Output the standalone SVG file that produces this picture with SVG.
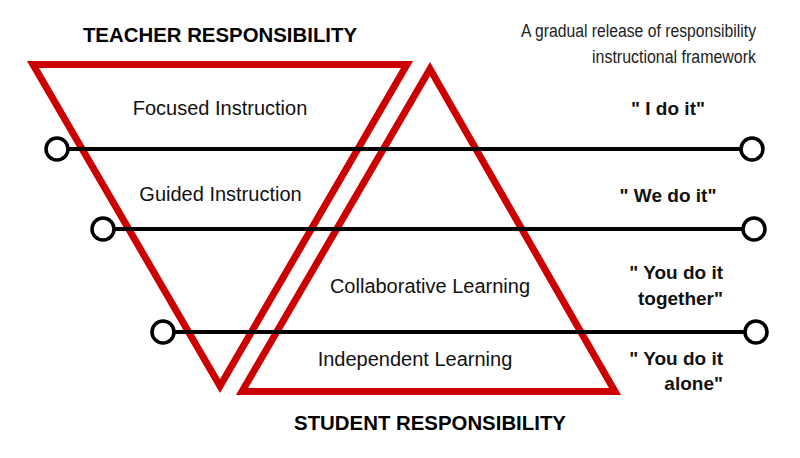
<svg xmlns="http://www.w3.org/2000/svg" width="800" height="458" viewBox="0 0 800 458">
<style>
.tri{fill:none;stroke:#cc0000;stroke-width:7;stroke-linejoin:miter;stroke-miterlimit:10}
.ln{stroke:#000;stroke-width:4}
.dot{fill:#fff;stroke:#000;stroke-width:3.5}
.hd{font-family:"Liberation Sans",Arial,sans-serif;font-weight:bold;font-size:20.4px;fill:#000}
.lb{font-family:"Liberation Sans",Arial,sans-serif;font-size:20px;fill:#111;text-anchor:middle}
.rt{font-family:"Liberation Sans",Arial,sans-serif;font-weight:bold;font-size:19px;fill:#111}
.sub{font-family:"Liberation Sans Narrow","Liberation Sans",Arial,sans-serif;font-size:18px;fill:#222;text-anchor:end}
</style>
<rect width="800" height="458" fill="#fff"/>
<g id="teacher-triangle">
<polygon class="tri" points="33,64.5 407,64.5 220,386"/>
</g>
<g id="student-triangle">
<polygon class="tri" points="430,69 615,391.5 242,391.5"/>
</g>
<g id="connectors">
<line class="ln" x1="57" y1="149" x2="752" y2="149"/>
<circle class="dot" cx="57" cy="149" r="11"/>
<circle class="dot" cx="752" cy="149" r="11"/>
<line class="ln" x1="103" y1="229" x2="754" y2="229"/>
<circle class="dot" cx="103" cy="229" r="11"/>
<circle class="dot" cx="754" cy="229" r="11"/>
<line class="ln" x1="163" y1="332" x2="756" y2="332"/>
<circle class="dot" cx="163" cy="332" r="11"/>
<circle class="dot" cx="756" cy="332" r="11"/>
</g>
<g id="title-teacher"><text class="hd" x="220" y="42" text-anchor="middle">TEACHER RESPONSIBILITY</text></g>
<g id="title-student"><text class="hd" x="430" y="430" text-anchor="middle">STUDENT RESPONSIBILITY</text></g>
<g id="subtitle">
<text class="sub" x="756" y="37" textLength="235" lengthAdjust="spacingAndGlyphs">A gradual release of responsibility</text>
<text class="sub" x="756" y="63" textLength="164" lengthAdjust="spacingAndGlyphs">instructional framework</text>
</g>
<g id="focused"><text class="lb" x="220" y="115">Focused Instruction</text></g>
<g id="guided"><text class="lb" x="220.5" y="201">Guided Instruction</text></g>
<g id="collaborative"><text class="lb" x="430" y="293">Collaborative Learning</text></g>
<g id="independent"><text class="lb" x="415" y="366">Independent Learning</text></g>
<g id="i-do-it"><text class="rt" x="668" y="115" text-anchor="middle">" I do it"</text></g>
<g id="we-do-it"><text class="rt" x="668" y="202" text-anchor="middle">" We do it"</text></g>
<g id="you-together">
<text class="rt" x="723" y="279" text-anchor="end">" You do it</text>
<text class="rt" x="723" y="305" text-anchor="end">together"</text>
</g>
<g id="you-alone">
<text class="rt" x="723" y="365" text-anchor="end">" You do it</text>
<text class="rt" x="723" y="390" text-anchor="end">alone"</text>
</g>
</svg>
